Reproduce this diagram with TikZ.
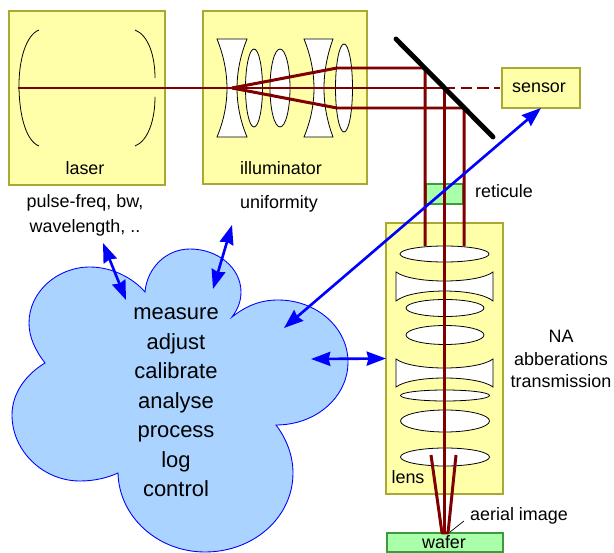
\documentclass[tikz,border=0pt]{standalone}
\usepackage{fontspec}
\setmainfont{Liberation Sans}
\usepackage{xcolor}
\usetikzlibrary{arrows.meta}
\definecolor{unitfill}{HTML}{FFFFAA}
\definecolor{unitline}{HTML}{A8A832}
\definecolor{platefill}{HTML}{AAFFAA}
\definecolor{plateline}{HTML}{3C9C3C}
\definecolor{cloudfill}{HTML}{AAD4FF}
\definecolor{beamred}{HTML}{800000}
\def\px{0.02cm}
\tikzstyle{unit}=[rectangle,fill=unitfill,draw=unitline,line width=0.6pt,inner sep=0pt,outer sep=0pt]
\tikzstyle{plate}=[rectangle,fill=platefill,draw=plateline,line width=0.6pt,inner sep=0pt,outer sep=0pt]
\tikzstyle{glass}=[fill=white,draw=black,line width=0.45pt]
\tikzstyle{beam}=[draw=beamred,line width=1.7pt,line join=round]
\tikzstyle{link}=[draw=blue,line width=1.5pt,{Stealth[length=11pt,width=8pt,inset=1pt]}-{Stealth[length=11pt,width=8pt,inset=1pt]}]
\tikzstyle{txt}=[font=\fontsize{10.2}{12.8}\selectfont,align=center,inner sep=0pt,text=black]
\begin{document}
\begin{tikzpicture}[x=\px,y=-\px]

  \useasboundingbox (0,0) rectangle (614,553);

  \foreach \name/\x/\y/\w/\h in {laser/87/98/156/174, illuminator/285/97.5/164/173, sensor/541/88/78/40, lens/444.5/358.5/117/271}
     \node[unit,minimum width=\w*\px,minimum height=\h*\px] (\name) at (\x,\y) {};

  \foreach \name/\x/\y/\w/\h in {reticule/444.5/194/37/20, wafer/445/542.5/116/19}
     \node[plate,minimum width=\w*\px,minimum height=\h*\px] (\name) at (\x,\y) {};

  % laser mirrors
  \draw[black,line width=0.45pt] (39,30) .. controls (26,35) and (19,60) .. (19,85) .. controls (19,115) and (26,141) .. (39,146);
  \draw[black,line width=0.45pt] (135,30) .. controls (148,35) and (155,55) .. (155,78);
  \draw[black,line width=0.45pt] (155,97) .. controls (155,120) and (148,141) .. (135,146);

  % illuminator optics
  \foreach \xa/\xb/\ca/\cb in {217/247/230.3/233.7, 304/333/317.3/321}
     \draw[glass] (\xa,39) -- (\xb,39) .. controls (\cb,72) and (\cb,105) .. (\xb,137) -- (\xa,137) .. controls (\ca,105) and (\ca,72) .. (\xa,39) -- cycle;
  \foreach \x/\y/\rx/\ry in {254/88/8.5/39, 280/88/10/39, 344/88/8.5/44}
     \draw[glass] (\x,\y) ellipse [x radius=\rx, y radius=\ry];

  % projection optics
  \foreach \ya/\yb/\ca/\cb in {272/301/284/287.7, 359/387/371/375}
     \draw[glass] (396,\ya) .. controls (412,\ca) and (477,\ca) .. (493,\ya) -- (493,\yb) .. controls (477,\cb) and (412,\cb) .. (396,\yb) -- cycle;
  \foreach \x/\y/\rx/\ry in {444.5/254/44.5/8, 445/308/39/8.5, 445/335/39/9.5, 445/395.5/44.5/5.5, 445/421/44.5/11, 445/457/44.5/9}
     \draw[glass] (\x,\y) ellipse [x radius=\rx, y radius=\ry];

  % cloud
  \draw[fill=cloudfill,draw=blue,line width=0.5pt]
    (45,363) .. controls (35,350) and (29,337) .. (29,323) .. controls (29,292) and (57,267) .. (90,267) .. controls (112,267) and (133,278) .. (145,292)
    .. controls (147,268) and (166,249) .. (190,249) .. controls (218,249) and (241,268) .. (241,292) .. controls (241,301) and (238,309) .. (232,317)
    .. controls (246,306) and (260,300) .. (278,300) .. controls (317,300) and (348,328) .. (348,362) .. controls (348,397) and (316,425) .. (276,425)
    .. controls (286,438) and (293,455) .. (293,473) .. controls (293,517) and (254,552) .. (205,552) .. controls (158,552) and (119,517) .. (118,473)
    .. controls (107,478) and (94,481) .. (80,481) .. controls (43,481) and (12,451) .. (12,415) .. controls (12,394) and (25,375) .. (45,363) -- cycle;

  \foreach \name/\x/\y in {start/18/88, apex/232/88, fold/444/88, sidea/337/68, sideb/337/108, folda/425/68, foldb/464/108,
                           enda/425/246, endb/464/246, tapea/431/455, tapeb/456/455, spot/444/533, spota/442/533, spotb/448/533, senseend/500/88}
     \coordinate (\name) at (\x,\y);

  \path[beam] (start) -- (fold) -- (spot);
  \path[beam] (apex) -- (sidea) -- (folda) -- (enda);
  \path[beam] (apex) -- (sideb) -- (foldb) -- (endb);
  \path[beam] (tapea) -- (spota) -- (spotb) -- (tapeb);
  \path[beam,dash pattern=on 6.5pt off 3pt] (fold) -- (senseend);

  % fold mirror
  \coordinate (mirrora) at (396,39);
  \coordinate (mirrorb) at (493,137);
  \draw[black,line width=2.8pt,line cap=round] (mirrora) -- (mirrorb);

  \foreach \name/\x/\y in {pulsetip/103/243, pulsein/126/300, unitip/232/225, uniin/213/289, sensein/284/328, lensin/311/359}
     \coordinate (\name) at (\x,\y);

  \path[link] (pulsetip) -- (pulsein);
  \path[link] (unitip) -- (uniin);
  \path[link] (lensin) -- (lens.west);
  \path[link] (sensor.south) -- (sensein);

  % leader of the image label
  \coordinate (leadera) at (450,532);
  \coordinate (leaderb) at (464,521);
  \draw[black,line width=0.4pt] (leadera) -- (leaderb);

  \foreach \name/\x/\y/\label in {laserlabel/85/168/laser, illumlabel/281/168/illuminator, unilabel/279/204/uniformity, senselabel/539/88/sensor,
                                  retlabel/504/191/reticule, lenslabel/408/477/lens, aeriallabel/519/516/aerial image, waferlabel/444/542/wafer}
     \node[txt] (\name) at (\x,\y) {\label};

  \node[txt] (pulselabel) at (85,215.5) {pulse-freq, bw,\\[1.5pt]wavelength, ..};
  \node[txt] (nalabel) at (561,359) {NA\\abberations\\transmission};
  \node[txt,font=\fontsize{12.5}{16.8}\selectfont] (tasks) at (176,402.5) {measure\\adjust\\calibrate\\analyse\\process\\log\\control};

\end{tikzpicture}
\end{document}
